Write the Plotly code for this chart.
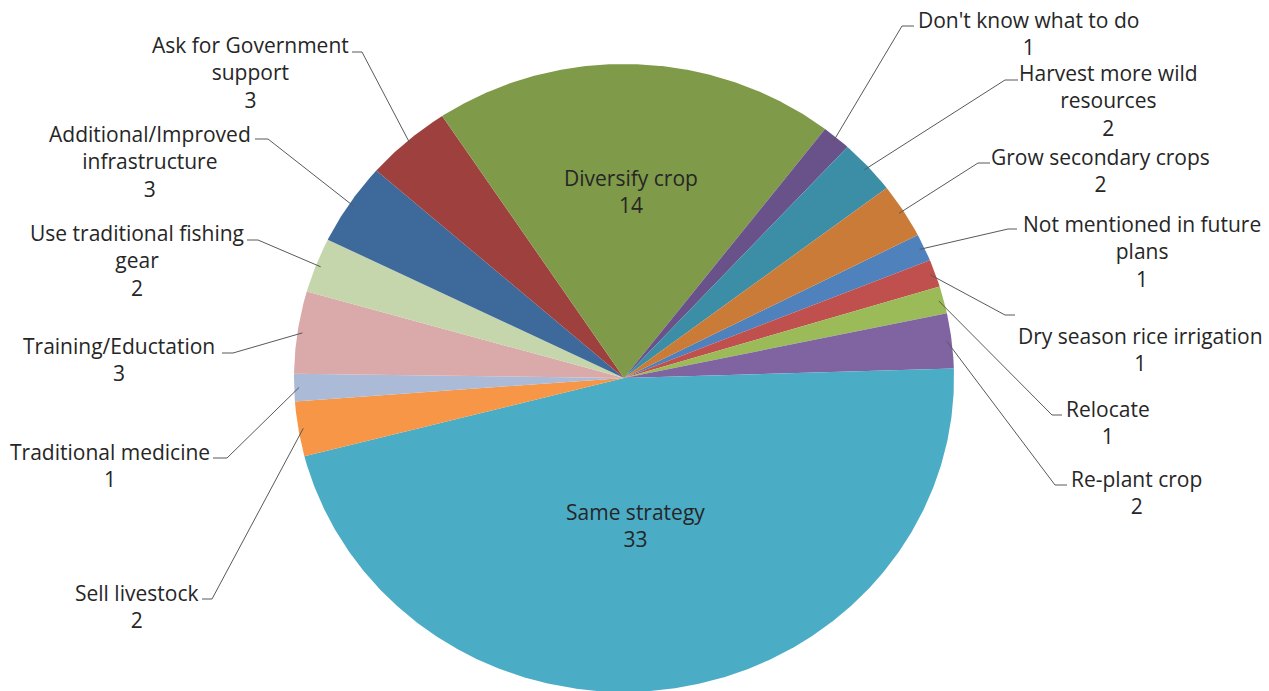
import math
import plotly.graph_objects as go

# ---------------- data ----------------
labels = [
    "Not mentioned in future plans", "Dry season rice irrigation", "Relocate",
    "Re-plant crop", "Same strategy", "Sell livestock", "Traditional medicine",
    "Training/Eductation", "Use traditional fishing gear",
    "Additional/Improved infrastructure", "Ask for Government support",
    "Diversify crop", "Don't know what to do", "Harvest more wild resources",
    "Grow secondary crops",
]
values = [1, 1, 1, 2, 33, 2, 1, 3, 2, 3, 3, 14, 1, 2, 2]
label_text = [
    "Not mentioned in future<br>plans", "Dry season rice irrigation", "Relocate",
    "Re-plant crop", "Same strategy", "Sell livestock", "Traditional medicine",
    "Training/Eductation", "Use traditional fishing<br>gear",
    "Additional/Improved<br>infrastructure", "Ask for Government<br>support",
    "Diversify crop", "Don't know what to do", "Harvest more wild<br>resources",
    "Grow secondary crops",
]
colors = [
    "#4F81BD", "#C0504D", "#9BBB59", "#8064A2", "#4BACC6", "#F79646", "#AABAD7",
    "#D9AAA9", "#C6D6AC", "#3E699B", "#9E413E", "#7F9A48", "#69518A", "#3B8EA5",
    "#CB7B38",
]

# ---------------- layout constants (pixels) ----------------
W, H = 1269, 691
CX, CY = 624, 378          # pie centre
RX, RY = 330, 314          # the original pie is slightly stretched horizontally
START_ANGLE = 62.9         # degrees clockwise from 12 o'clock
LEAD_R = 0.985

# label placement: text block centre, leader elbow (x, y) and end of the short horizontal tick
label_pos = {
    "Not mentioned in future plans": (1142, 251, 1008, 229, 1017),
    "Dry season rice irrigation": (1140, 349, 1005, 315, 1015),
    "Relocate": (1108, 422, 1052, 415, 1062),
    "Re-plant crop": (1136, 492, 1055, 485, 1067),
    "Same strategy": (635, 525, None, None, None),
    "Sell livestock": (136, 606, 212, 599, 202),
    "Traditional medicine": (110, 465, 227, 458, 213),
    "Training/Eductation": (119, 359, 233, 353, 222),
    "Use traditional fishing gear": (137, 260, 258, 240, 247),
    "Additional/Improved infrastructure": (150, 161, 268, 139, 255),
    "Ask for Government support": (250, 72, 362, 52, 352),
    "Diversify crop": (631, 191, None, None, None),
    "Don't know what to do": (1028, 33, 902, 26, 914),
    "Harvest more wild resources": (1108, 100, 1005, 80, 1018),
    "Grow secondary crops": (1100, 170, 978, 163, 990),
}

FONT = "Open Sans"
FSIZE = 21
TXT = "#262626"
LEADER = "#595959"

fig = go.Figure()

# pie slices in unit-circle coordinates; the axes scale them to the (elliptical) pie
total = sum(values)
cum = 0
mids = []
for lab, v, col in zip(labels, values, colors):
    a0 = START_ANGLE + cum / total * 360
    a1 = START_ANGLE + (cum + v) / total * 360
    cum += v
    mids.append((a0 + a1) / 2)
    n = max(4, int((a1 - a0) / 0.4))
    xs, ys = [0.0], [0.0]
    for k in range(n + 1):
        t = math.radians(a0 + (a1 - a0) * k / n)
        xs.append(math.sin(t))
        ys.append(math.cos(t))
    xs.append(0.0)
    ys.append(0.0)
    fig.add_trace(go.Scatter(
        x=xs, y=ys, mode="lines", fill="toself", fillcolor=col,
        line=dict(width=0, color=col), name=lab,
        hoveron="fills", hoverinfo="name", showlegend=False,
        xaxis="x", yaxis="y",
    ))

# invisible pixel-space overlay for labels and leader lines
fig.add_trace(go.Scatter(x=[0, W], y=[0, H], mode="markers", marker=dict(opacity=0),
                         hoverinfo="skip", showlegend=False, xaxis="x2", yaxis="y2"))

annotations = []
shapes = []
for lab, txt, v, mid in zip(labels, label_text, values, mids):
    tx, ty, ex, ey, hx = label_pos[lab]
    annotations.append(dict(
        x=tx, y=ty, xref="x2", yref="y2", text=f"{txt}<br>{v}", showarrow=False,
        xanchor="center", yanchor="middle", align="center",
        font=dict(family=FONT, size=FSIZE, color=TXT),
    ))
    if ex is not None:
        a = math.radians(mid)
        px = CX + LEAD_R * RX * math.sin(a)
        py = CY - LEAD_R * RY * math.cos(a)
        shapes.append(dict(
            type="path", xref="x2", yref="y2", layer="above",
            path=f"M {px:.1f} {py:.1f} L {ex} {ey} L {hx} {ey}",
            line=dict(color=LEADER, width=1),
        ))

fig.update_layout(
    width=W, height=H,
    margin=dict(l=0, r=0, t=0, b=0, pad=0),
    paper_bgcolor="white", plot_bgcolor="white",
    xaxis=dict(range=[-CX / RX, (W - CX) / RX], visible=False, fixedrange=True),
    yaxis=dict(range=[(CY - H) / RY, CY / RY], visible=False, fixedrange=True),
    xaxis2=dict(range=[0, W], visible=False, fixedrange=True, overlaying="x"),
    yaxis2=dict(range=[H, 0], visible=False, fixedrange=True, overlaying="y"),
    annotations=annotations,
    shapes=shapes,
    showlegend=False,
)

fig.write_html(
    "out.html",
    config={"displayModeBar": False},
    post_script=("document.body.style.margin='0';"
                 "document.body.style.overflow='hidden';"
                 "document.documentElement.style.overflow='hidden';"),
)
